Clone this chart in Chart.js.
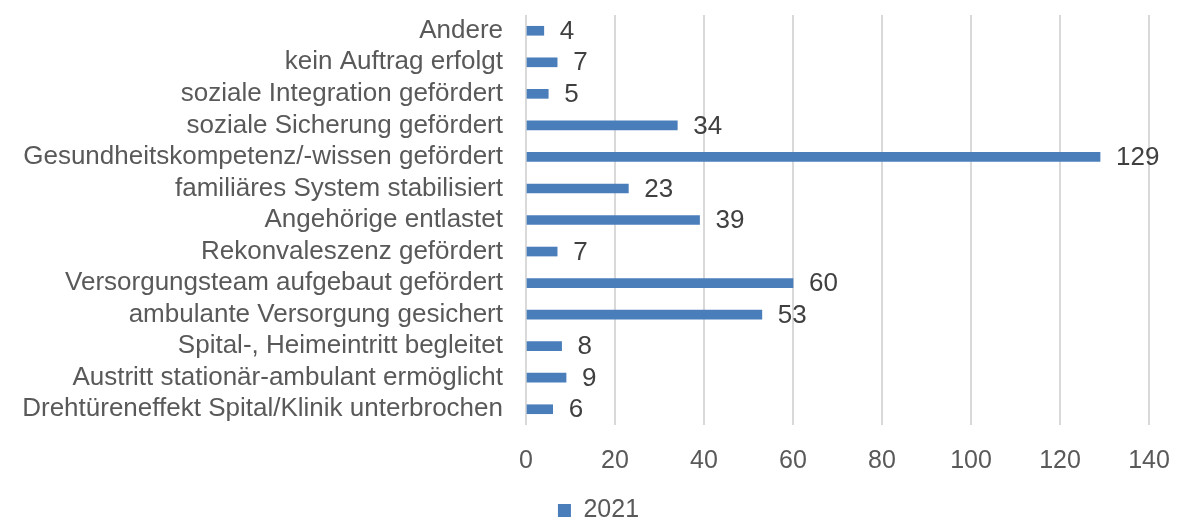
<!DOCTYPE html>
<html>
<head>
<meta charset="utf-8">
<script src="https://cdn.jsdelivr.net/npm/chart.js@4.4.0/dist/chart.umd.min.js"></script>
<style>
  html, body { margin: 0; padding: 0; background: #fff; }
  #wrap { width: 1181px; height: 521px; }
</style>
</head>
<body>
<div id="wrap"><canvas id="chart-bar"></canvas></div>
<script>
const categories = [
  "Andere",
  "kein Auftrag erfolgt",
  "soziale Integration gefördert",
  "soziale Sicherung gefördert",
  "Gesundheitskompetenz/-wissen gefördert",
  "familiäres System stabilisiert",
  "Angehörige entlastet",
  "Rekonvaleszenz gefördert",
  "Versorgungsteam aufgebaut gefördert",
  "ambulante Versorgung gesichert",
  "Spital-, Heimeintritt begleitet",
  "Austritt stationär-ambulant ermöglicht",
  "Drehtüreneffekt Spital/Klinik unterbrochen",
];
const values2021 = [4, 7, 5, 34, 129, 23, 39, 7, 60, 53, 8, 9, 6];
const xTicks = [0, 20, 40, 60, 80, 100, 120, 140];

const FONT = "'Liberation Sans', Arial, sans-serif";

// Werte rechts neben den Balken
const valueLabels = {
  id: "valueLabels",
  afterDatasetsDraw(chart) {
    const ctx = chart.ctx;
    const meta = chart.getDatasetMeta(0);
    ctx.save();
    ctx.font = "26px " + FONT;
    ctx.fillStyle = "#404040";
    ctx.textAlign = "left";
    ctx.textBaseline = "middle";
    meta.data.forEach((bar, i) => {
      ctx.fillText(String(values2021[i]), bar.x + 16, bar.y + 1);
    });
    ctx.restore();
  },
};

// Legende etwas tiefer und nach rechts schieben
const legendShift = {
  id: "legendShift",
  afterLayout(chart) {
    const lg = chart.legend;
    if (!lg) return;
    lg.top += 12;
    lg.bottom += 12;
    lg.left += 24;
    lg.right += 24;
  },
};

new Chart(document.getElementById("chart-bar").getContext("2d"), {
  type: "bar",
  data: {
    labels: categories,
    datasets: [
      {
        label: "2021",
        data: values2021,
        backgroundColor: "#4a7ebb",
        borderWidth: 0,
        barThickness: 9,
      },
    ],
  },
  plugins: [valueLabels, legendShift],
  options: {
    indexAxis: "y",
    responsive: true,
    maintainAspectRatio: false,
    animation: false,
    layout: { padding: { top: 15, right: 32, left: 0, bottom: 0 } },
    scales: {
      x: {
        min: 0,
        max: 140,
        afterBuildTicks(scale) {
          scale.ticks = xTicks.map((v) => ({ value: v }));
        },
        afterFit(scale) {
          scale.height = 51;
          scale.paddingLeft = 0;
          scale.paddingRight = 0;
        },
        grid: { color: "#d9d9d9", lineWidth: 2, drawTicks: false },
        border: { display: false },
        ticks: {
          color: "#595959",
          font: { family: FONT, size: 25 },
          padding: 21,
        },
      },
      y: {
        afterFit(scale) {
          scale.width = 526;
          scale.paddingTop = 0;
          scale.paddingBottom = 0;
        },
        grid: { display: false },
        border: { display: false },
        ticks: {
          autoSkip: false,
          color: "#595959",
          font: { family: FONT, size: 26 },
          padding: 15,
        },
      },
    },
    plugins: {
      legend: {
        position: "bottom",
        labels: {
          color: "#595959",
          font: { family: FONT, size: 25 },
          boxWidth: 13,
          boxHeight: 13,
          padding: 10,
        },
      },
      tooltip: { enabled: false },
    },
  },
});
</script>
</body>
</html>
